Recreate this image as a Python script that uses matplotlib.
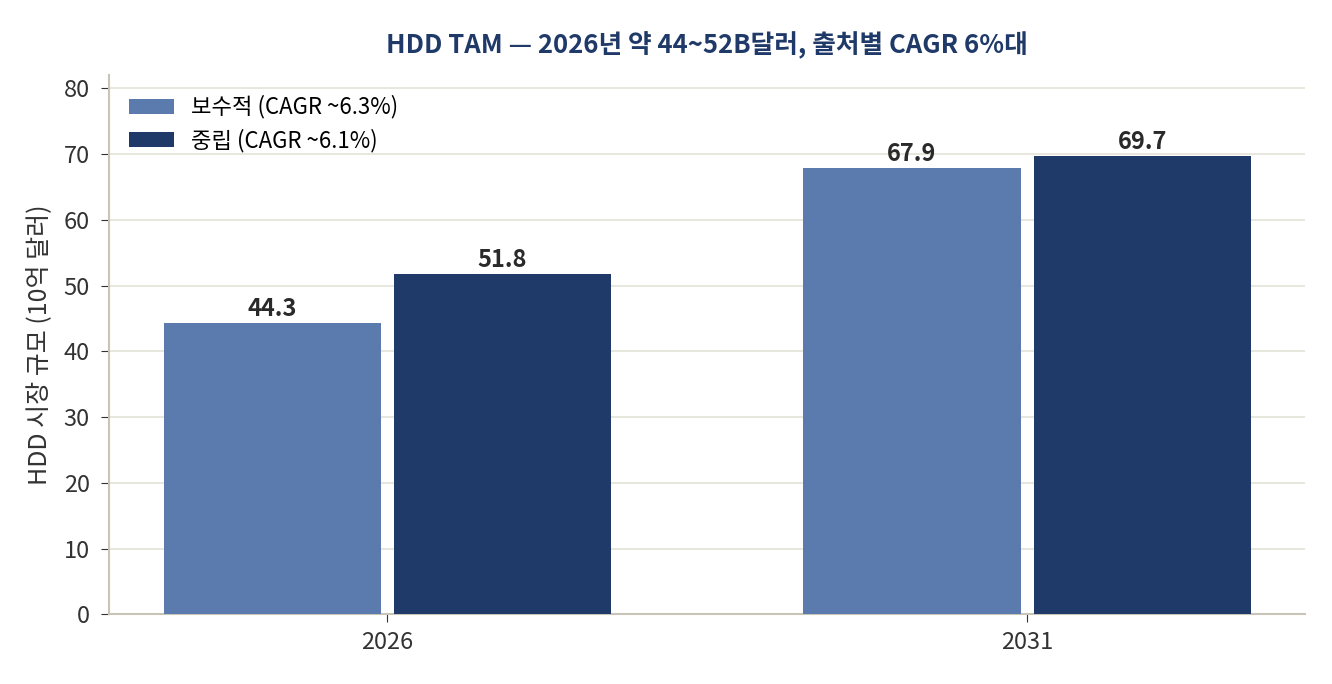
import numpy as np
import matplotlib
matplotlib.use("Agg")
import matplotlib.pyplot as plt

plt.rcParams['font.family'] = ['Noto Sans CJK KR', 'DejaVu Sans']

years = ['2026', '2031']
conservative = [44.3, 67.9]
neutral = [51.8, 69.7]
labels = ['보수적 (CAGR ~6.3%)', '중립 (CAGR ~6.1%)']

c_light = '#5B7BAF'
c_dark = '#1F3A68'

fig, ax = plt.subplots(figsize=(13.32, 6.84), dpi=100)
fig.subplots_adjust(left=0.082, right=0.98, top=0.89, bottom=0.102)

x = np.arange(len(years))
w = 0.34
b1 = ax.bar(x - 0.18, conservative, w, color=c_light, label=labels[0], zorder=3)
b2 = ax.bar(x + 0.18, neutral, w, color=c_dark, label=labels[1], zorder=3)

for bars in (b1, b2):
    for r in bars:
        ax.text(r.get_x() + r.get_width() / 2, r.get_height() + 0.3,
                f'{r.get_height():.1f}', ha='center', va='bottom',
                fontsize=17, fontweight='bold', color='#2a2a2a')

ax.set_ylim(0, 82)
ax.set_yticks(range(0, 81, 10))
ax.set_xticks(x)
ax.set_xticklabels(years)
ax.tick_params(labelsize=17, colors='#333333')
ax.tick_params(axis='y', pad=8, length=6)
ax.tick_params(axis='x', pad=6, length=6)
ax.set_ylabel('HDD 시장 규모 (10억 달러)', fontsize=18, color='#333333', labelpad=8)
ax.set_title('HDD TAM — 2026년 약 44~52B달러, 출처별 CAGR 6%대',
             fontsize=18.5, fontweight='bold', color=c_dark, pad=16)

ax.yaxis.grid(True, color='#E3E3D8', linewidth=1.2, zorder=0)
ax.set_axisbelow(True)
for s in ('top', 'right'):
    ax.spines[s].set_visible(False)
for s in ('left', 'bottom'):
    ax.spines[s].set_color('#C8C4B8')
    ax.spines[s].set_linewidth(1.5)

ax.legend(loc='upper left', frameon=False, fontsize=16, handlelength=2.0,
          handleheight=0.65, borderaxespad=0.5, labelspacing=0.45)

fig.savefig('out.png', dpi=100)
